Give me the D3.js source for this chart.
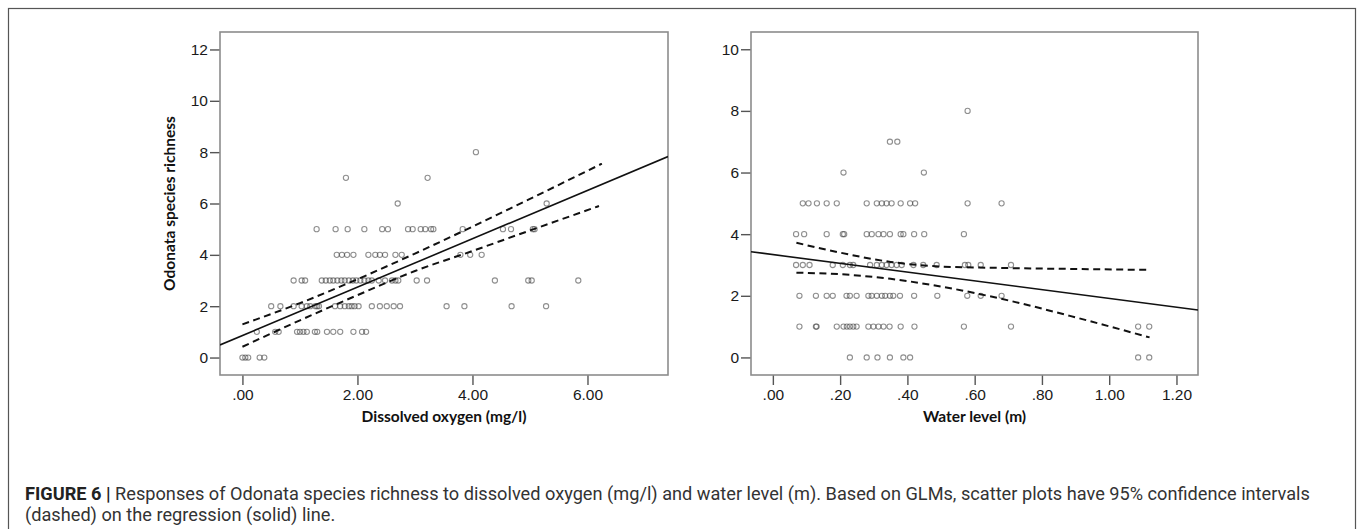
<html>
<head>
<title>Figure 6</title>
<script src="https://d3js.org/d3.v7.min.js"></script>
<style>
  body { margin: 0; background: #fff; }
  text { font-family: "Liberation Sans", Arial, sans-serif; }
  .tick text { font-size: 15.5px; fill: #1a1a1a; }
  .title { font-family: Lato, "Open Sans", sans-serif; font-weight: bold; font-size: 15.5px; fill: #111; }
  .cap { font-family: Roboto, "Liberation Sans", sans-serif; font-size: 15px; fill: #333; }
</style>
</head>
<body>
<svg id="fig" width="1363" height="529"></svg>
<script>
// ---- data ----
// dissolved oxygen (mg/l) vs richness
let oxygenPoints = [
  [0.00,0],[0.05,0],[0.10,0],[0.30,0],[0.38,0],
  [0.25,1],[0.57,1],[0.63,1],[0.95,1],[1.00,1],[1.06,1],[1.12,1],[1.26,1],[1.30,1],[1.47,1],[1.58,1],[1.70,1],[1.93,1],[2.08,1],[2.15,1],
  [0.50,2],[0.66,2],[0.89,2],[1.03,2],[1.12,2],[1.18,2],[1.27,2],[1.30,2],[1.33,2],[1.61,2],[1.70,2],[1.78,2],[1.85,2],[1.90,2],[1.95,2],[2.02,2],[2.25,2],[2.39,2],[2.51,2],[2.63,2],[2.74,2],[3.55,2],[3.86,2],[4.68,2],[5.28,2],
  [0.89,3],[1.03,3],[1.09,3],[1.38,3],[1.45,3],[1.52,3],[1.58,3],[1.65,3],[1.72,3],[1.78,3],[1.85,3],[1.92,3],[1.98,3],[2.05,3],[2.12,3],[2.19,3],[2.25,3],[2.37,3],[2.48,3],[2.60,3],[2.66,3],[2.71,3],[3.03,3],[3.21,3],[4.39,3],[4.97,3],[5.03,3],[5.84,3],
  [1.64,4],[1.73,4],[1.82,4],[1.93,4],[2.19,4],[2.31,4],[2.39,4],[2.48,4],[2.66,4],[2.77,4],[3.79,4],[3.96,4],[4.16,4],
  [1.29,5],[1.62,5],[1.83,5],[2.12,5],[2.43,5],[2.53,5],[2.88,5],[2.96,5],[3.10,5],[3.18,5],[3.28,5],[3.32,5],[3.83,5],[4.53,5],[4.67,5],[5.05,5],[5.08,5],
  [2.70,6],[5.29,6],
  [1.80,7],[3.22,7],
  [4.06,8]
];
let oxygenFit = [[-0.39,0.49],[7.40,7.83]];
let oxygenUpper = [[0,1.29],[1,2.12],[2,3.05],[3,4.05],[4,5.10],[5,6.18],[6.25,7.55]];
let oxygenLower = [[0,0.42],[1,1.45],[2,2.43],[3,3.37],[4,4.15],[5,4.95],[6.2,5.90]];
let oxygenXTicks = [0,2,4,6];
let oxygenYTicks = [0,2,4,6,8,10,12];

// water level (m) vs richness
let waterPoints = [
  [0.229,0],[0.279,0],[0.311,0],[0.348,0],[0.388,0],[0.408,0],[1.086,0],[1.119,0],
  [0.079,1],[0.128,1],[0.130,1],[0.190,1],[0.210,1],[0.220,1],[0.229,1],[0.239,1],[0.249,1],[0.284,1],[0.299,1],[0.314,1],[0.329,1],[0.347,1],[0.380,1],[0.421,1],[0.568,1],[0.708,1],[1.086,1],[1.119,1],
  [0.079,2],[0.128,2],[0.160,2],[0.178,2],[0.219,2],[0.229,2],[0.249,2],[0.284,2],[0.294,2],[0.309,2],[0.324,2],[0.334,2],[0.348,2],[0.358,2],[0.378,2],[0.420,2],[0.489,2],[0.578,2],[0.618,2],[0.680,2],
  [0.069,3],[0.089,3],[0.109,3],[0.178,3],[0.208,3],[0.229,3],[0.239,3],[0.289,3],[0.309,3],[0.324,3],[0.338,3],[0.353,3],[0.368,3],[0.383,3],[0.418,3],[0.447,3],[0.487,3],[0.571,3],[0.581,3],[0.618,3],[0.708,3],
  [0.069,4],[0.093,4],[0.160,4],[0.208,4],[0.212,4],[0.279,4],[0.294,4],[0.314,4],[0.329,4],[0.348,4],[0.380,4],[0.388,4],[0.420,4],[0.450,4],[0.568,4],
  [0.089,5],[0.106,5],[0.131,5],[0.160,5],[0.190,5],[0.279,5],[0.309,5],[0.324,5],[0.338,5],[0.353,5],[0.380,5],[0.408,5],[0.423,5],[0.579,5],[0.680,5],
  [0.210,6],[0.449,6],
  [0.348,7],[0.370,7],
  [0.579,8]
];
let waterFit = [[-0.065,3.43],[1.264,1.54]];
let waterUpper = [[0.07,3.72],[0.2,3.40],[0.35,3.10],[0.5,2.95],[0.7,2.90],[0.9,2.87],[1.12,2.84]];
let waterLower = [[0.07,2.75],[0.2,2.70],[0.35,2.55],[0.5,2.30],[0.7,1.85],[0.9,1.30],[1.12,0.65]];
let waterXTicks = [0,0.2,0.4,0.6,0.8,1.0,1.2];
let waterYTicks = [0,2,4,6,8,10];

let captionBold = "FIGURE 6 | ";
let captionLine1 = "Responses of Odonata species richness to dissolved oxygen (mg/l) and water level (m). Based on GLMs, scatter plots have 95% confidence intervals";
let captionLine2 = "(dashed) on the regression (solid) line.";

let svg = d3.select("#fig");

// outer figure box
svg.append("rect").attr("x",8.5).attr("y",8.5).attr("width",1347).attr("height",525)
   .attr("fill","none").attr("stroke","#555").attr("stroke-width",1.2);

function fmt(d){ return d3.format(".2f")(d).replace(/^0\./,"."); }

function drawPanel(opt){
  let x = d3.scaleLinear().domain(opt.xDomain).range([opt.left, opt.right]);
  let y = d3.scaleLinear().domain(opt.yDomain).range([opt.bottom, opt.top]);
  let g = svg.append("g");
  let clipId = "clip" + opt.id;
  g.append("clipPath").attr("id", clipId).append("rect")
    .attr("x", opt.left).attr("y", opt.top)
    .attr("width", opt.right-opt.left).attr("height", opt.bottom-opt.top);

  // axes
  let xa = g.append("g").attr("transform",`translate(0,${opt.bottom})`)
    .call(d3.axisBottom(x).tickValues(opt.xTicks).tickFormat(fmt).tickSize(10).tickPadding(4));
  let ya = g.append("g").attr("transform",`translate(${opt.left},0)`)
    .call(d3.axisLeft(y).tickValues(opt.yTicks).tickFormat(d3.format("d")).tickSize(10).tickPadding(2));
  xa.select(".domain").remove();
  ya.select(".domain").remove();
  g.selectAll(".tick line").attr("stroke","#555").attr("stroke-width",1.4);

  // frame
  g.append("rect").attr("x",opt.left).attr("y",opt.top)
    .attr("width",opt.right-opt.left).attr("height",opt.bottom-opt.top)
    .attr("fill","none").attr("stroke","#8c8c8c").attr("stroke-width",1.6);

  // points
  g.append("g").selectAll("circle").data(opt.points).enter().append("circle")
    .attr("cx", d => x(d[0])).attr("cy", d => y(d[1])).attr("r",2.6)
    .attr("fill","none").attr("stroke","#444").attr("stroke-opacity",0.6).attr("stroke-width",1.1);

  let line = d3.line().x(d => x(d[0])).y(d => y(d[1])).curve(d3.curveMonotoneX);
  let lg = g.append("g").attr("clip-path",`url(#${clipId})`);
  lg.append("path").attr("d", line(opt.fit)).attr("fill","none").attr("stroke","#111").attr("stroke-width",1.6);
  [opt.upper, opt.lower].forEach(s => {
    lg.append("path").attr("d", line(s)).attr("fill","none").attr("stroke","#111")
      .attr("stroke-width",2).attr("stroke-dasharray","7,4.5");
  });

  // x title
  g.append("text").attr("class","title").attr("x",(opt.left+opt.right)/2).attr("y",opt.bottom+47)
    .attr("text-anchor","middle").text(opt.xTitle);
  if (opt.yTitle) {
    g.append("text").attr("class","title")
      .attr("transform",`translate(${opt.left-45},${(opt.top+opt.bottom)/2}) rotate(-90)`)
      .attr("text-anchor","middle").text(opt.yTitle);
  }
}

drawPanel({id:"a", left:220, right:668, top:32, bottom:375,
  xDomain:[-0.39,7.40], yDomain:[-0.68,12.68],
  xTicks:oxygenXTicks, yTicks:oxygenYTicks,
  points:oxygenPoints, fit:oxygenFit, upper:oxygenUpper, lower:oxygenLower,
  xTitle:"Dissolved oxygen (mg/l)", yTitle:"Odonata species richness"});

drawPanel({id:"b", left:751, right:1198, top:32, bottom:375,
  xDomain:[-0.065,1.264], yDomain:[-0.57,10.56],
  xTicks:waterXTicks, yTicks:waterYTicks,
  points:waterPoints, fit:waterFit, upper:waterUpper, lower:waterLower,
  xTitle:"Water level (m)"});

// caption, sized so the first line spans the same width as in the figure
let cap1 = svg.append("text").attr("class","cap").attr("x",25).attr("y",500);
cap1.append("tspan").attr("font-weight","bold").attr("fill","#222").text(captionBold);
cap1.append("tspan").text(captionLine1);
let cap2 = svg.append("text").attr("class","cap").attr("x",25).attr("y",521).text(captionLine2);
let w = cap1.node().getComputedTextLength();
let fs = 15 * 1286 / w;
cap1.style("font-size", fs + "px");
cap2.style("font-size", fs + "px");
</script>
</body>
</html>
